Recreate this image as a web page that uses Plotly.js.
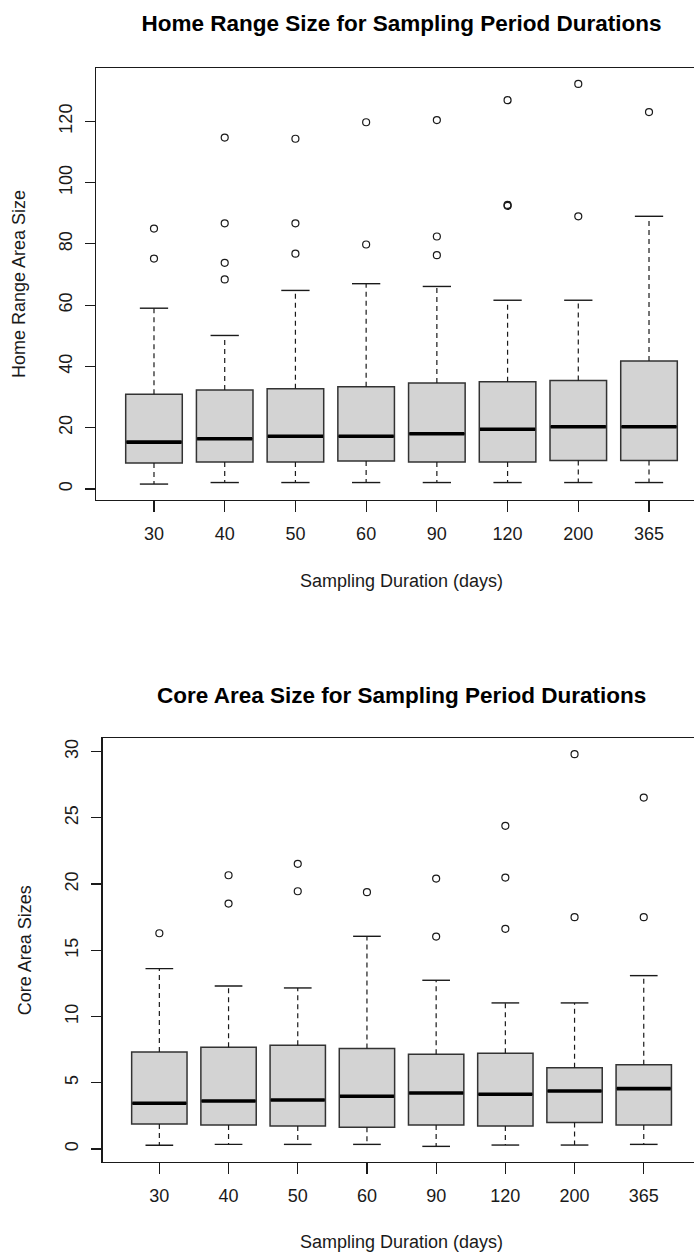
<!DOCTYPE html>
<html>
<head>
<meta charset="utf-8">
<script src="https://cdn.plot.ly/plotly-3.0.1.min.js"></script>
<style>
html, body { margin: 0; padding: 0; background: #fff; overflow: hidden; }
#chart { width: 720px; height: 1252px; }
</style>
</head>
<body>
<div id="chart"></div>
<script>
// ---- data ----
const categories = ['30', '40', '50', '60', '90', '120', '200', '365'];

// Home range (top panel)
const hrLower   = [1.6, 2.1, 2.1, 2.1, 2.1, 2.1, 2.1, 2.1];
const hrQ1      = [8.5, 8.8, 8.8, 9.1, 8.8, 8.8, 9.3, 9.3];
const hrMedian  = [15.3, 16.4, 17.2, 17.2, 18.0, 19.5, 20.3, 20.3];
const hrQ3      = [30.9, 32.3, 32.7, 33.4, 34.6, 35.0, 35.4, 41.8];
const hrUpper   = [59.0, 50.1, 64.8, 67.0, 66.1, 61.6, 61.6, 89.0];
const hrOutliers = [[75.2, 85.0], [68.4, 73.8, 86.7, 114.7], [76.8, 86.7, 114.3], [79.8, 119.7],
                    [76.3, 82.4, 120.4], [92.4, 92.7, 126.9], [89.0, 132.2], [123.0]];

// Core area (bottom panel)
const caLower   = [0.28, 0.35, 0.35, 0.35, 0.2, 0.3, 0.3, 0.35];
const caQ1      = [1.89, 1.81, 1.74, 1.64, 1.81, 1.74, 2.01, 1.81];
const caMedian  = [3.45, 3.63, 3.70, 3.98, 4.23, 4.13, 4.38, 4.56];
const caQ3      = [7.33, 7.68, 7.83, 7.58, 7.15, 7.23, 6.14, 6.37];
const caUpper   = [13.62, 12.31, 12.16, 16.06, 12.74, 11.03, 11.03, 13.09];
const caOutliers = [[16.29], [18.53, 20.67], [19.46, 21.53], [19.39], [16.04, 20.42],
                    [16.62, 20.49, 24.40], [17.50, 29.81], [17.50, 26.53]];

// ---- styling ----
const W = 720, H = 1252;
const FONT = 'Liberation Sans, Arial, sans-serif';
const INK = '#1a1a1a';
const BOXW = 0.8, CAPW = 0.4;
const pos = categories.map((_, i) => i + 1);

function panelTraces(lower, q1, med, q3, upper, outl, xa, ya) {
  const traces = [];
  traces.push({
    type: 'box', x: pos, q1: q1, median: med, q3: q3,
    lowerfence: q1, upperfence: q3, width: BOXW, whiskerwidth: 0,
    fillcolor: '#D3D3D3', line: {color: '#333333', width: 1.5},
    boxpoints: false, hoverinfo: 'skip', showlegend: false, xaxis: xa, yaxis: ya
  });
  // dashed whiskers
  const wx = [], wy = [];
  pos.forEach((p, i) => { wx.push(p, p, null, p, p, null); wy.push(q3[i], upper[i], null, q1[i], lower[i], null); });
  traces.push({type: 'scatter', mode: 'lines', x: wx, y: wy, line: {color: INK, width: 1.2, dash: '5px,4px'},
    hoverinfo: 'skip', showlegend: false, xaxis: xa, yaxis: ya});
  // caps
  const cx = [], cy = [];
  pos.forEach((p, i) => {
    cx.push(p - CAPW / 2, p + CAPW / 2, null, p - CAPW / 2, p + CAPW / 2, null);
    cy.push(upper[i], upper[i], null, lower[i], lower[i], null);
  });
  traces.push({type: 'scatter', mode: 'lines', x: cx, y: cy, line: {color: INK, width: 1.4},
    hoverinfo: 'skip', showlegend: false, xaxis: xa, yaxis: ya});
  // medians
  const mx = [], my = [];
  pos.forEach((p, i) => { mx.push(p - BOXW / 2 + 0.01, p + BOXW / 2 - 0.01, null); my.push(med[i], med[i], null); });
  traces.push({type: 'scatter', mode: 'lines', x: mx, y: my, line: {color: '#000', width: 3.6},
    hoverinfo: 'skip', showlegend: false, xaxis: xa, yaxis: ya});
  // outliers
  const ox = [], oy = [];
  outl.forEach((arr, i) => arr.forEach(v => { ox.push(pos[i]); oy.push(v); }));
  traces.push({type: 'scatter', mode: 'markers', x: ox, y: oy,
    marker: {symbol: 'circle-open', size: 7, color: INK, line: {width: 1.2, color: INK}},
    hoverinfo: 'skip', showlegend: false, xaxis: xa, yaxis: ya});
  return traces;
}

const data = [].concat(
  panelTraces(hrLower, hrQ1, hrMedian, hrQ3, hrUpper, hrOutliers, 'x', 'y'),
  panelTraces(caLower, caQ1, caMedian, caQ3, caUpper, caOutliers, 'x2', 'y2')
);

function xAxis(domain, anchor, standoff) {
  return {
    domain: domain, anchor: anchor, range: [0.18, 8.82],
    tickmode: 'array', tickvals: pos, ticktext: categories,
    ticks: 'outside', ticklen: 11, tickwidth: 1.2, tickcolor: INK,
    showline: true, mirror: true, linecolor: INK, linewidth: 1.3,
    showgrid: false, zeroline: false, fixedrange: true,
    tickfont: {family: FONT, size: 18, color: INK}, ticklabelstandoff: 6,
    title: {text: 'Sampling Duration (days)', font: {family: FONT, size: 18, color: INK}, standoff: standoff}
  };
}
function yAxis(domain, anchor, range, tickvals, title, standoff) {
  return {
    domain: domain, anchor: anchor, range: range,
    tickmode: 'array', tickvals: tickvals, tickangle: -90,
    ticks: 'outside', ticklen: 10, tickwidth: 1.2, tickcolor: INK,
    showline: true, mirror: true, linecolor: INK, linewidth: 1.3,
    showgrid: false, zeroline: false, fixedrange: true,
    tickfont: {family: FONT, size: 18, color: INK}, ticklabelstandoff: 6,
    title: {text: title, font: {family: FONT, size: 18, color: INK}, standoff: standoff}
  };
}

const layout = {
  width: W, height: H,
  margin: {l: 0, r: 0, t: 0, b: 0},
  paper_bgcolor: '#fff', plot_bgcolor: '#fff',
  showlegend: false,
  title: {
    text: 'Home Range Size for Sampling Period Durations',
    font: {family: FONT, size: 22.5, color: '#000', weight: 'bold'},
    xref: 'paper', x: 401.5 / W, xanchor: 'center',
    yref: 'container', y: 1 - 23.5 / H, yanchor: 'middle'
  },
  xaxis: xAxis([96 / W, 707 / W], 'y', 31),
  yaxis: yAxis([1 - 500 / H, 1 - 68 / H], 'x', [-3.6, 137.4], [0, 20, 40, 60, 80, 100, 120], 'Home Range Area Size', 25),
  xaxis2: xAxis([102.6 / W, 700.5 / W], 'y2', 31),
  yaxis2: yAxis([1 - 1162 / H, 1 - 738.4 / H], 'x2', [-0.98, 31.0], [0, 5, 10, 15, 20, 25, 30], 'Core Area Sizes', 25),
  annotations: [{
    text: '<b>Core Area Size for Sampling Period Durations</b>',
    xref: 'paper', yref: 'paper', x: 401.5 / W, y: 1 - 695 / H,
    xanchor: 'center', yanchor: 'middle', showarrow: false,
    font: {family: FONT, size: 22.5, color: '#000'}
  }]
};

Plotly.newPlot('chart', data, layout, {staticPlot: true, displayModeBar: false});
</script>
</body>
</html>
